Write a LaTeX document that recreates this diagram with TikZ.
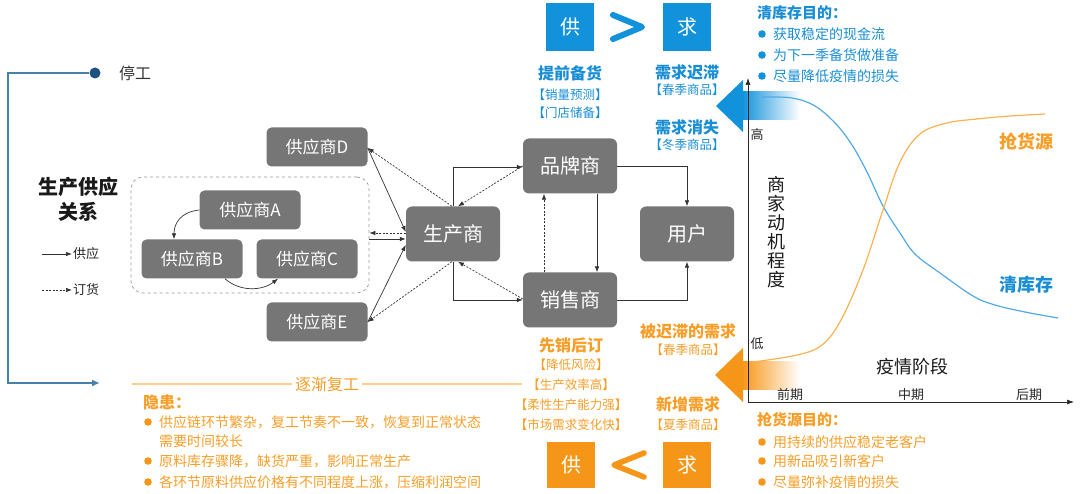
\documentclass[tikz,border=0pt]{standalone}
\usepackage{fontspec}
\setmainfont{Noto Sans CJK SC}
\usetikzlibrary{arrows.meta,calc}
\newcommand{\myfs}[1]{\fontsize{#1}{#1}\selectfont}
\definecolor{boxgray}{RGB}{118,118,118}
\definecolor{bblue}{RGB}{18,146,218}
\definecolor{tblue}{RGB}{26,142,212}
\definecolor{oorange}{RGB}{246,150,24}
\definecolor{torange}{RGB}{247,158,40}
\definecolor{cblue}{RGB}{80,170,230}
\definecolor{corange}{RGB}{250,178,80}
\definecolor{steel}{RGB}{70,130,170}
\definecolor{dotblue}{RGB}{28,82,128}
\definecolor{lorange}{RGB}{252,205,140}
\tikzset{
  sbox/.style={fill=boxgray, rounded corners=5pt, text=white, minimum width=101pt, minimum height=39pt, inner sep=0pt, font=\myfs{17}},
  mbox/.style={fill=boxgray, rounded corners=6pt, text=white, minimum width=94pt, minimum height=55pt, inner sep=0pt, font=\myfs{20}},
  sup/.style={-{Latex[length=6pt,width=4.5pt]}, line width=0.7pt, draw=black!80},
  ord/.style={sup, dash pattern=on 2pt off 1.5pt},
  bluebox/.style={fill=bblue, text=white, minimum width=48pt, minimum height=48pt, inner sep=0pt, font=\myfs{20}},
  orangebox/.style={fill=oorange, text=white, minimum width=48pt, minimum height=45pt, inner sep=0pt, font=\myfs{20}},
  btitle/.style={text=tblue, font=\myfs{16}\bfseries, inner sep=1pt},
  bsub/.style={text=tblue, font=\myfs{12.5}, inner sep=1pt},
  otitle/.style={text=torange, font=\myfs{16}\bfseries, inner sep=1pt},
  osub/.style={text=torange, font=\myfs{12.5}, inner sep=1pt},
  blist/.style={text=tblue, font=\myfs{14}, anchor=west, inner sep=1pt},
  olist/.style={text=torange, font=\myfs{14}, anchor=west, inner sep=1pt},
  small/.style={text=black!85, font=\myfs{13}, inner sep=1pt},
}
\begin{document}
\begin{tikzpicture}[x=1pt,y=-1pt]
\useasboundingbox (0,0) rectangle (1080,494);

% ---------- left timeline bracket ----------
\node[circle, fill=dotblue, minimum size=11pt, inner sep=0pt] (stopdot) at (95,73) {};
\node[anchor=west, text=black!80, font=\myfs{16}, inner sep=1pt] (tinggong) at (118,73) {停工};
\coordinate (c1) at (8,73);
\coordinate (c2) at (8,383);
\coordinate (resume) at (100,383);
\draw[steel, line width=1.6pt, -{Latex[length=8pt,width=7pt]}] (stopdot.west) -- (c1) -- (c2) -- (resume);

% ---------- title & legend ----------
\node[align=center, font=\myfs{20}\bfseries, text=black!90] (title) at (78,199) {生产供应\\[5pt]关系};
\coordinate (l1a) at (42,254);
\coordinate (l2a) at (42,290);
\node[anchor=west, font=\myfs{13}, text=black!85, inner sep=1pt] (lg1) at (72,254) {供应};
\node[anchor=west, font=\myfs{13}, text=black!85, inner sep=1pt] (lg2) at (72,290) {订货};
\draw[sup] (l1a) -- (lg1.west);
\draw[ord] (l2a) -- (lg2.west);

% ---------- suppliers ----------
\node[draw=black!40, dashed, rounded corners=12pt, minimum width=238pt, minimum height=116pt, line width=0.7pt] (grp) at (250,235) {};
\node[sbox] (sa) at (250,210) {供应商A};
\node[sbox] (sb) at (192,259) {供应商B};
\node[sbox] (sc) at (307,259) {供应商C};
\node[sbox] (sd) at (317,147) {供应商D};
\node[sbox] (se) at (317,322) {供应商E};
\draw[sup] (sa.west) .. controls (180,212) and (174,224) .. ([xshift=-18pt]sb.north);
\draw[sup] ([xshift=33pt]sb.south) .. controls (240,292) and (262,291) .. ([xshift=-29pt]sc.south);

% ---------- main chain ----------
\node[mbox] (scs) at (453,234) {生产商};
\node[mbox] (pps) at (570,166) {品牌商};
\node[mbox] (xss) at (570,300) {销售商};
\node[mbox] (yh) at (687,234) {用户};

\draw[sup] ([yshift=-1pt]sd.east) -- ([yshift=2pt]scs.west);
\draw[ord] ([xshift=-1pt]scs.north) -- ([yshift=-1pt]sd.east);
\draw[sup] (se.east) -- ([yshift=-11pt]scs.west);
\draw[ord] ([xshift=-1pt]scs.south) -- (se.east);
\draw[ord] (scs.west |- 0,233) -- (grp.east |- 0,233);
\draw[sup] (grp.east |- 0,239) -- (scs.west |- 0,239);

\draw[sup] (scs.north) |- ([yshift=-1pt]pps.west);
\draw[ord] (pps.west) -- ([xshift=5pt]scs.north);
\draw[sup] (scs.south) |- (xss.west);
\draw[ord] ([yshift=1pt]xss.west) -- ([xshift=5pt]scs.south);
\draw[ord] (xss.north -| 544,0) -- (pps.south -| 544,0);
\draw[sup] (pps.south -| 597,0) -- (xss.north -| 597,0);
\draw[sup] (pps.east) -| (yh.north);
\draw[sup] (xss.east) -| (yh.south);

% ---------- top: supply > demand ----------
\node[bluebox] (g1) at (570,27) {供};
\node[bluebox] (q1) at (687,27) {求};
\draw[bblue, line width=6pt, line cap=round, line join=round] (613,15) -- (642,27) -- (613,39);
\node[btitle] (tq) at (570,73) {提前备货};
\node[bsub] (tq1) at (570,95) {【销量预测】};
\node[bsub] (tq2) at (570,113) {【门店储备】};
\node[btitle] (xqcz) at (687,72) {需求迟滞};
\node[bsub] (xqcz1) at (687,90) {【春季商品】};
\node[btitle] (xqxs) at (687,127) {需求消失};
\node[bsub] (xqxs1) at (687,145) {【冬季商品】};

% ---------- bottom: supply < demand ----------
\node[orangebox] (g2) at (571,465) {供};
\node[orangebox] (q2) at (687,465) {求};
\draw[oorange, line width=5.5pt, line cap=round, line join=round] (644,453) -- (614,465) -- (644,477);
\node[otitle] (xx) at (571,345) {先销后订};
\node[osub] (xx1) at (571,365) {【降低风险】};
\node[osub] (xx2) at (571,385) {【生产效率高】};
\node[osub] (xx3) at (571,405) {【柔性生产能力强】};
\node[osub] (xx4) at (571,425) {【市场需求变化快】};
\node[otitle] (bcz) at (688,331) {被迟滞的需求};
\node[osub] (bcz1) at (688,350) {【春季商品】};
\node[otitle] (xz) at (688,404) {新增需求};
\node[osub] (xz1) at (688,425) {【夏季商品】};

% ---------- resume line & risks ----------
\node[text=torange, font=\myfs{16}, inner sep=3pt] (fg) at (327,384) {逐渐复工};
\coordinate (fgl) at (132,384);
\coordinate (fgr) at (522,384);
\draw[lorange, line width=1.6pt] (fgl) -- (fg.west);
\draw[lorange, line width=1.6pt] (fg.east) -- (fgr);
\node[anchor=west, text=torange, font=\myfs{16}\bfseries, inner sep=1pt] (yh0) at (142,402) {隐患：};
\fill[oorange] (148,422) circle (3.8);
\fill[oorange] (148,461) circle (3.8);
\fill[oorange] (148,482) circle (3.8);
\node[olist] (yh1) at (158,422) {供应链环节繁杂，复工节奏不一致，恢复到正常状态};
\node[olist] (yh1b) at (158,441) {需要时间较长};
\node[olist] (yh2) at (158,461) {原料库存骤降，缺货严重，影响正常生产};
\node[olist] (yh3) at (158,482) {各环节原料供应价格有不同程度上涨，压缩利润空间};

% ---------- big arrows ----------
\shade[left color=bblue, right color=white] (742,92) rectangle (800,120);
\fill[bblue] (716,106) -- (743,80) -- (743,132) -- cycle;
\shade[left color=oorange, right color=white] (742,362) rectangle (800,390);
\fill[oorange] (715,375) -- (743,348) -- (743,402) -- cycle;

% ---------- chart ----------
\coordinate (origin) at (748,402);
\coordinate (ytop) at (748,78);
\coordinate (xend) at (1074,402);
\draw[black!85, line width=0.7pt, -{Latex[length=7pt,width=5pt]}] (origin) -- (ytop);
\draw[black!85, line width=0.7pt, -{Latex[length=7pt,width=5pt]}] (origin) -- (xend);
\draw[cblue, line width=1.2pt] plot[smooth, tension=0.6] coordinates {(762,97) (792,98) (815,106) (836,124) (852,145) (867,172) (883,206) (900,233) (915,254) (940,273) (973,296) (995,305) (1025,312) (1058,318)};
\draw[corange, line width=1.2pt] plot[smooth, tension=0.6] coordinates {(753,362) (797,355) (822,345) (841,320) (863,270) (883,210) (900,162) (920,134) (947,123) (977,119) (1010,116) (1045,114)};
\node[small] (hi) at (757,135) {高};
\node[small] (lo) at (757,344) {低};
\node[align=center, font=\myfs{18}, text=black!90, inner sep=1pt] (ylab) at (776,232) {商\\[1pt]家\\[1pt]动\\[1pt]机\\[1pt]程\\[1pt]度};
\node[font=\myfs{18}, text=black!90, inner sep=1pt] (xlab) at (912,367) {疫情阶段};
\node[small] (p1) at (790,395) {前期};
\node[small] (p2) at (911,395) {中期};
\node[small] (p3) at (1029,395) {后期};
\node[text=torange, font=\myfs{18}\bfseries, inner sep=1pt] (qhy) at (1026,142) {抢货源};
\node[text=tblue, font=\myfs{18}\bfseries, inner sep=1pt] (qkc) at (1026,285) {清库存};

% ---------- goals ----------
\node[anchor=west, text=tblue, font=\myfs{15}\bfseries, inner sep=1pt] (qkcmd) at (756,13) {清库存目的：};
\fill[bblue] (762,34) circle (3.8);
\fill[bblue] (762,55) circle (3.8);
\fill[bblue] (762,76) circle (3.8);
\node[blist] (b1) at (772,34) {获取稳定的现金流};
\node[blist] (b2) at (772,55) {为下一季备货做准备};
\node[blist] (b3) at (772,76) {尽量降低疫情的损失};
\node[anchor=west, text=torange, font=\myfs{15}\bfseries, inner sep=1pt] (qhymd) at (756,420) {抢货源目的：};
\fill[oorange] (762,442) circle (3.8);
\fill[oorange] (762,461) circle (3.8);
\fill[oorange] (762,482) circle (3.8);
\node[olist] (o1) at (772,442) {用持续的供应稳定老客户};
\node[olist] (o2) at (772,461) {用新品吸引新客户};
\node[olist] (o3) at (772,482) {尽量弥补疫情的损失};
\end{tikzpicture}
\end{document}
